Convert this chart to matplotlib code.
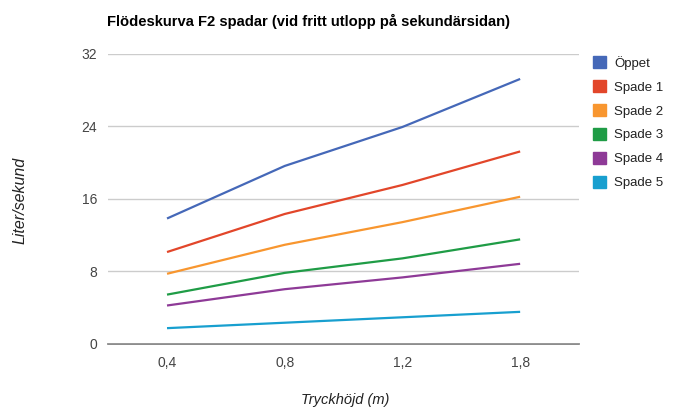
import numpy as np
import matplotlib.pyplot as plt

plt.rcParams['font.family'] = ['Liberation Sans', 'DejaVu Sans']

categories = ['0,4', '0,8', '1,2', '1,8']
oppet = [13.8, 19.6, 23.9, 29.2]
spade1 = [10.1, 14.3, 17.5, 21.2]
spade2 = [7.7, 10.9, 13.4, 16.2]
spade3 = [5.4, 7.8, 9.4, 11.5]
spade4 = [4.2, 6.0, 7.3, 8.8]
spade5 = [1.7, 2.3, 2.9, 3.5]

series = [oppet, spade1, spade2, spade3, spade4, spade5]
names = ['Öppet', 'Spade 1', 'Spade 2', 'Spade 3', 'Spade 4', 'Spade 5']
colors = ['#4568b8', '#e2462a', '#f8962f', '#1f9c46', '#8e3a97', '#189fcf']
yticks = [0, 8, 16, 24, 32]

fig = plt.figure(figsize=(6.76, 4.09), dpi=100)
ax = fig.add_axes([0.16, 0.16, 0.6965, 0.709])

x = np.arange(len(categories))
for vals, name, c in zip(series, names, colors):
    ax.plot(x, vals, color=c, linewidth=1.6, label=name,
            solid_capstyle='butt')

ax.set_xlim(-0.5, len(categories) - 0.5)
ax.set_ylim(0, 32)
ax.set_yticks(yticks)
ax.set_yticklabels([str(v) for v in yticks])
ax.set_xticks(x)
ax.set_xticklabels(categories)
ax.grid(axis='y', color='#cccccc', linewidth=1)
ax.set_axisbelow(True)
for s in ['top', 'right', 'left']:
    ax.spines[s].set_visible(False)
ax.spines['bottom'].set_color('#777777')
ax.spines['bottom'].set_linewidth(1.2)
ax.spines['bottom'].set_zorder(0.5)
ax.tick_params(length=0, labelsize=10, colors='#444444')
ax.tick_params(axis='x', pad=9)
ax.tick_params(axis='y', pad=8)

# axis titles placed directly in figure coordinates
fig.text(0.51, 0.022, 'Tryckhöjd (m)', fontsize=10.5, style='italic',
         color='#222222', ha='center', va='center')
fig.text(0.03, 0.51, 'Liter/sekund', fontsize=11.5, style='italic',
         color='#222222', ha='center', va='center', rotation=90)

fig.text(0.158, 0.948, 'Flödeskurva F2 spadar (vid fritt utlopp på sekundärsidan)',
         fontsize=10.6, fontweight='bold', color='#000000', va='center')

handles = [plt.Rectangle((0, 0), 1, 1, color=c) for c in colors]
fig.legend(handles, names, loc='upper left', bbox_to_anchor=(0.86, 0.893),
           frameon=False, fontsize=9.5, handlelength=1.0, handleheight=1.0,
           handletextpad=0.6, labelspacing=0.8, labelcolor='#222222')

fig.savefig('out.png', dpi=100)
